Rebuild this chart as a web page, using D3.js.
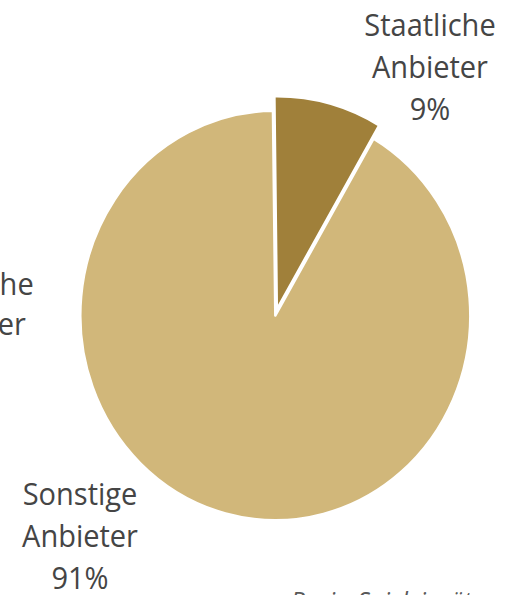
<!DOCTYPE html>
<html>
<head>
<meta charset="utf-8">
<script src="https://cdn.jsdelivr.net/npm/d3@7"></script>
<style>
  body { margin: 0; background: #fff; }
  svg { display: block; }
  text { font-family: "Open Sans", "Noto Sans", sans-serif; fill: #454545; }
</style>
</head>
<body>
<svg id="chart" width="513" height="595"></svg>
<script>
// values
const categories = ["Staatliche Anbieter", "Sonstige Anbieter"];
const shares = [8.6, 91.4];
const sideLabel = ["Staatliche", "Anbieter"];   // label of the neighbour chart, cut by the crop
const footnote = "Basis: Spieleinsätze";

const colors = ["#A0803A", "#D1B77A"];

let svg = d3.select('#chart');
// the picture is a little taller than wide, so stretch everything a bit
let g = svg.append('g').attr('transform', 'scale(1,1.05)');

let cx = 275.3, cy = 300.5, radius = 195;
let total = d3.sum(shares);
let pct = d3.format('.0%');

let pie = d3.pie()
  .sort(null)
  .startAngle(-0.012)
  .endAngle(2 * Math.PI - 0.012);

let arcs = pie(shares);

let arcMain = d3.arc().innerRadius(0).outerRadius(radius);
let arcOut = d3.arc().innerRadius(0).outerRadius(radius + 8);

let pieG = g.append('g').attr('transform', `translate(${cx},${cy})`);

pieG.selectAll('path.slice')
  .data(arcs)
  .enter()
  .append('path')
  .attr('class', 'slice')
  .attr('d', (d, i) => i == 0 ? arcOut(d) : arcMain(d))
  .attr('transform', (d, i) => {
    if (i != 0) return null;
    let a = (d.startAngle + d.endAngle) / 2;
    return `translate(${Math.sin(a) * 6},${-Math.cos(a) * 6})`;
  })
  .attr('fill', (d, i) => colors[i])
  .attr('stroke', '#fff')
  .attr('stroke-width', 2.5)
  .attr('stroke-linejoin', 'round');

// data labels
let labelPos = [[430, 34.3], [80, 481]];
let lineH = 40;

let labels = g.selectAll('text.label')
  .data(categories)
  .enter()
  .append('text')
  .attr('class', 'label')
  .attr('text-anchor', 'middle')
  .style('font-size', '29px');

labels.each(function(d, i) {
  let lines = d.split(' ').concat([pct(shares[i] / total)]);
  d3.select(this).selectAll('tspan')
    .data(lines)
    .enter()
    .append('tspan')
    .attr('x', labelPos[i][0])
    .attr('y', (l, j) => labelPos[i][1] + j * lineH)
    .text(l => l);
});

// partial label on the left edge
g.append('text')
  .attr('text-anchor', 'middle')
  .style('font-size', '29px')
  .selectAll('tspan')
  .data(sideLabel)
  .enter()
  .append('tspan')
  .attr('x', -32)
  .attr('y', (l, j) => 281 + j * 38)
  .text(l => l);

// footnote, mostly below the crop
g.append('text')
  .attr('x', 494)
  .attr('y', 580.5)
  .attr('text-anchor', 'end')
  .style('font-size', '24px')
  .style('font-style', 'italic')
  .style('fill', '#595959')
  .text(footnote);
</script>
</body>
</html>
